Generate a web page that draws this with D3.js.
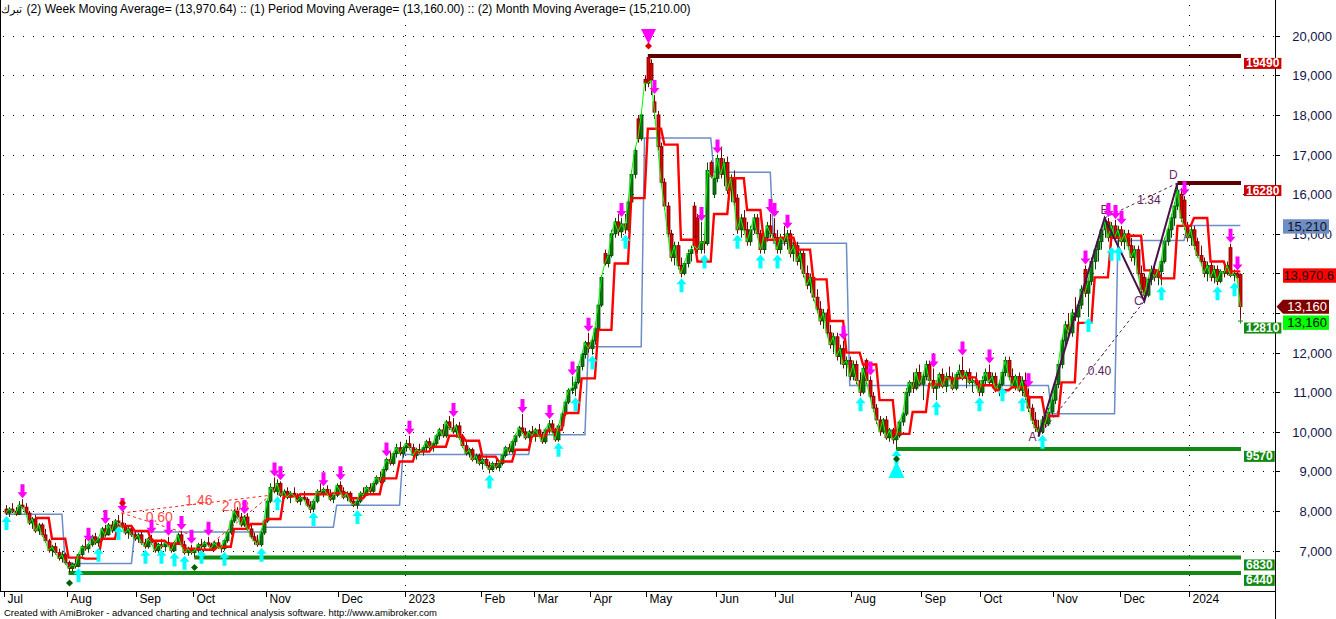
<!DOCTYPE html>
<html><head><meta charset="utf-8">
<script src="https://cdn.jsdelivr.net/npm/d3@7"></script>
<style>body{margin:0;background:#fff}svg{display:block}text{font-family:"Liberation Sans",Arial,sans-serif}</style>
</head><body><svg id="c" width="1336" height="619"></svg>
<script>
// ---------- DATA ----------
const monthLabels = ["Jul","Aug","Sep","Oct","Nov","Dec","2023","Feb","Mar","Apr","May","Jun","Jul","Aug","Sep","Oct","Nov","Dec","2024"];
const monthBars   = [19,21,17,22,22,20,23,16,17,17,21,18,23,21,18,22,20,21,16];
const monthMA     = [7920,6680,7470,7470,7590,8150,9430,9430,9930,12150,17420,16550,14760,11170,11170,11170,10460,14830,15210];
const yTicks = [7000,8000,9000,10000,11000,12000,13000,14000,15000,16000,17000,18000,19000,20000];
const hiddenTicks = [13000,14000]; // covered by the value boxes in the original

const opens = [
8050,7950,8050,8000,7920,8150,8100,7950,7700,7800,7500,7650,7400,7250,7000,7100,6950,6800,6900,
6700,6550,6650,6600,6900,7100,7050,7150,7350,7200,7300,7550,7400,7650,7500,7750,7700,7600,7450,7550,7400,
7300,7400,7200,7100,7300,7200,7000,7150,7100,7200,7150,7000,7200,7400,7150,6950,7050,
6950,7000,7150,7100,7200,7150,7050,7200,7100,7050,7250,7450,7750,8000,7850,7650,7850,7550,7350,7250,7150,7450,
7750,8250,8600,8500,8700,8400,8500,8350,8450,8400,8250,8350,8300,8150,8050,8250,8500,8450,8550,8450,8300,8400,
8650,8500,8350,8450,8250,8150,8250,8450,8400,8600,8500,8700,8850,8750,9050,9300,9200,9450,9600,9450,
9600,9700,9600,9400,9550,9500,9600,9750,9600,9700,9900,10050,9900,10250,10100,10000,10150,9850,9650,9450,9550,9300,9400,
9200,9300,9150,9050,9200,9100,9200,9400,9600,9500,9750,9900,10100,10000,9850,10000,
9900,10050,9900,9750,10050,10200,10000,9800,10150,10450,10750,11050,11100,11250,11650,11950,12250,
12100,12300,12600,13200,14500,14250,14450,15000,15300,15050,15250,15100,15800,16500,17900,17400,18900,
19450,19300,18330,18000,17200,16300,15700,15000,14400,14700,14200,14000,14250,14500,15700,15400,14600,14800,14750,16800,16000,
16400,16900,16500,16800,16100,16400,15900,15100,15400,15100,14800,15100,15400,15000,14600,14900,15200,15000,
14900,14600,14900,14800,15000,14500,14700,14300,14500,14000,13700,13900,13400,13100,12800,13000,12500,12200,12400,11900,12100,11700,11800,
11400,11700,11300,11000,11800,11300,10900,10600,10300,10000,10300,9850,10050,9800,9900,10250,10450,11000,11250,11100,11500,
11200,11400,11700,11300,11100,11200,11450,11150,11400,11350,11100,11450,11550,11350,11500,11250,11300,11200,
11000,11300,11500,11250,11400,11100,11200,11500,11800,11400,11150,11400,11050,11300,10900,10600,10300,10100,10000,10300,10200,10500,
10800,11200,11700,12300,12700,12500,13000,12900,13200,14100,13500,13800,14300,14600,14800,15100,15300,14900,15200,14900,
15100,14800,15000,14700,14400,14600,14000,13900,13450,13850,14100,13900,14050,14300,14800,15100,15400,15700,16000,15850,15200,
14900,15100,14800,14450,14300,14000,14200,13900,14100,13800,14050,14000,14650,13950,14000,13970];
const highs = [
8150,8100,8200,8100,8250,8300,8200,8000,7850,7900,7700,7700,7550,7300,7150,7200,7050,7000,6950,
6750,6700,6800,6950,7150,7300,7200,7400,7450,7350,7600,7650,7700,7750,7800,7900,7950,7700,7600,7650,7500,
7450,7500,7300,7350,7400,7250,7200,7300,7250,7350,7200,7250,7450,7500,7250,7100,7150,
7050,7200,7300,7250,7350,7200,7250,7300,7150,7300,7500,7800,8050,8100,7950,7900,7950,7650,7450,7400,7500,7800,
8300,8700,8850,8800,8750,8550,8600,8500,8600,8450,8400,8500,8350,8250,8300,8550,8700,8600,8650,8550,8450,8700,
8750,8600,8500,8500,8350,8300,8500,8600,8650,8700,8750,8900,9000,9100,9350,9500,9500,9700,9750,9650,
9800,9900,9700,9600,9700,9650,9800,9850,9750,9950,10100,10200,10300,10400,10350,10200,10250,9950,9750,9600,9600,9450,9450,
9350,9400,9250,9250,9300,9250,9450,9650,9700,9800,9950,10150,10450,10100,10050,10150,
10100,10200,10000,10100,10300,10300,10100,10200,10500,10800,11100,11400,11300,11700,12000,12300,12500,
12400,12650,13300,13950,14600,14500,15100,15400,15500,15400,15500,15900,16600,17200,18000,18100,19000,
19490,19400,18500,18100,17300,16400,15800,15100,14800,14800,14400,14300,14600,14700,15800,15500,15300,15000,16800,16850,16450,
17000,17200,16900,16950,16500,16600,16000,15500,15600,15300,15200,15500,15500,15100,15000,15300,15500,15400,
15100,15000,15200,15100,15100,14800,14800,14600,14600,14200,14000,14000,13600,13300,13100,13100,12700,12500,12500,12200,12300,11900,11900,
11800,11800,11500,11700,11850,11400,11000,10700,10400,10350,10400,10100,10100,10000,10300,10500,11100,11300,11500,11600,11700,
11500,11800,11800,11600,11300,11500,11600,11500,11650,11500,11500,11700,11900,11550,11600,11400,11500,11300,
11400,11600,11700,11500,11500,11300,11550,11900,11900,11600,11450,11500,11400,11500,11100,10700,10500,10300,10400,10500,10600,10900,
11300,11800,12400,12800,13000,13100,13400,13300,13700,14200,13900,14400,14700,14900,15200,15400,15400,15300,15350,15200,
15200,15100,15100,14900,14700,14700,14200,14000,13900,14200,14250,14100,14400,14900,15200,15500,15800,16280,16150,15950,15300,
15200,15200,14900,14700,14400,14300,14300,14200,14200,14100,14300,14300,14750,14100,14050,14000];
const lows = [
7900,7850,7950,7880,7900,8050,7900,7650,7550,7450,7400,7350,7200,6950,6850,6900,6750,6700,6650,
6440,6480,6550,6580,6850,7000,6950,7100,7150,7100,7250,7350,7380,7450,7450,7650,7550,7400,7300,7350,7250,
7200,7150,7050,7050,7150,6950,6950,7050,6980,7100,6950,6980,7150,7100,6900,6870,6900,
6830,6950,7050,7000,7100,7000,7000,7050,6950,7000,7200,7400,7700,7800,7600,7600,7500,7300,7150,7100,7100,7400,
7700,8200,8450,8400,8350,8300,8300,8200,8350,8200,8150,8250,8100,7950,8000,8200,8400,8350,8400,8250,8200,8350,
8450,8300,8250,8200,8100,8050,8200,8350,8380,8450,8450,8650,8700,8700,9000,9150,9150,9350,9400,9350,
9500,9550,9350,9300,9450,9400,9500,9550,9500,9650,9800,9850,9850,10050,9950,9850,9800,9600,9400,9350,9250,9200,9150,
9050,9100,8950,9000,9050,9000,9150,9350,9450,9450,9650,9850,9950,9800,9750,9850,
9750,9850,9700,9700,9950,9950,9750,9750,10100,10400,10700,10950,10900,11200,11550,11850,12000,
11950,12200,12550,13150,14200,14150,14400,14900,14950,14900,15000,15050,15750,16400,17300,17350,18600,
18700,18500,17900,17100,16200,15600,14900,14300,14200,14100,13900,13950,14150,14300,14600,14500,14500,14500,14700,16400,15900,
16300,16400,16200,16000,15800,15700,15000,14900,15000,14700,14700,15000,14900,14500,14500,14800,14900,14800,
14500,14500,14700,14600,14400,14300,14200,14100,13900,13600,13500,13300,13000,12700,12600,12400,12100,12000,11800,11700,11600,11400,11300,
11300,11200,10900,10950,11200,10800,10500,10200,9900,9950,9800,9750,9700,9570,9850,10150,10400,10900,11000,11050,11150,
10800,11300,11200,11000,10800,11100,11100,11000,11300,11050,11050,11350,11300,11100,11200,11000,11100,10900,
10900,11200,11200,11100,11000,10900,11150,11400,11300,11100,11050,11000,10900,10800,10500,10200,10000,9880,9950,10100,10150,10400,
10700,11100,11600,12100,12400,12400,12800,12700,13100,13400,12900,13700,14100,14300,14600,14900,14800,14700,14800,14700,
14700,14600,14600,14300,14200,13900,13500,13300,13400,13700,13800,13700,13700,14250,14700,14900,15200,15600,15300,15100,14800,
14700,14600,14400,14200,13900,13800,13800,13750,13700,13750,13900,13950,13900,13800,13850,12810];
const closes = [
7950,8050,8000,7920,8150,8100,7950,7700,7800,7500,7650,7400,7250,7000,7100,6950,6800,6900,6700,
6550,6650,6600,6900,7100,7050,7150,7350,7200,7300,7550,7400,7650,7500,7750,7700,7600,7450,7550,7400,7300,
7400,7200,7100,7300,7200,7000,7150,7100,7200,7150,7000,7200,7400,7150,6950,7050,6950,
7000,7150,7100,7200,7150,7050,7200,7100,7050,7250,7450,7750,8000,7850,7650,7850,7550,7350,7250,7150,7450,7750,
8250,8600,8500,8700,8400,8500,8350,8450,8400,8250,8350,8300,8150,8050,8250,8500,8450,8550,8450,8300,8400,8650,
8500,8350,8450,8250,8150,8250,8450,8400,8600,8500,8700,8850,8750,9050,9300,9200,9450,9600,9450,9600,
9700,9600,9400,9550,9500,9600,9750,9600,9700,9900,10050,9900,10250,10100,10000,10150,9850,9650,9450,9550,9300,9400,9200,
9300,9150,9050,9200,9100,9200,9400,9600,9500,9750,9900,10100,10000,9850,10000,9900,
10050,9900,9750,10050,10200,10000,9800,10150,10450,10750,11050,11100,11250,11650,11950,12250,12100,
12300,12600,13200,13900,14250,14450,15000,15300,15050,15250,15100,15800,16500,17100,17400,18000,18800,
18800,18880,18070,17200,16300,15700,15000,14400,14700,14200,14000,14250,14500,14600,14700,14600,14800,14750,16600,16450,16400,
16900,16500,16800,16100,16400,15800,15100,15400,15100,14800,15100,15400,15000,14600,14900,15200,15000,14900,
14600,14900,14800,15000,14500,14700,14300,14500,14000,13700,13900,13400,13100,12800,13000,12500,12200,12400,11900,12100,11700,11800,11400,
11700,11300,11000,11600,11300,10900,10600,10300,10000,10300,9850,10050,9800,9900,10250,10450,11000,11250,11100,11500,11200,
11400,11700,11300,11100,11200,11450,11150,11400,11350,11100,11450,11550,11350,11500,11250,11300,11200,11000,
11300,11500,11250,11400,11100,11200,11500,11800,11400,11150,11400,11050,11300,10900,10600,10300,10100,10000,10300,10200,10500,10800,
11200,11700,12300,12700,12500,13000,12900,13200,13600,13500,13800,14300,14600,14800,15100,15300,14900,15200,14900,15100,
14800,15000,14700,14400,14600,14000,13600,13450,13850,14100,13900,14050,14300,14800,15100,15400,15700,16100,15400,15200,14900,
15100,14700,14450,14300,14000,14200,13900,14100,13800,14050,14000,14200,13950,14000,13900,13160];

const sellIdx = [5,25,30,35,44,49,53,56,61,72,81,83,96,101,115,122,135,156,164,171,176,186,196,210,215,231,232,236,253,261,280,289,297,309,326,333,335,337,356,370,372];
const buyIdx  = [0,22,28,34,42,47,51,54,59,66,77,82,93,106,146,167,172,177,187,204,211,221,228,233,258,269,281,294,301,307,313,327,334,336,349,366,371];
const bigSellIdx = [194], bigBuyIdx = [269];
const swingHighIdx = [35,194], swingLowIdx = [19,57,269];

const levelPrices = [19490,16280,12810,9570,6830,6440];
const levelStart  = [194,354,null,269,57,19];
const levelColor  = ["#5c0000","#5c0000","#108a10","#108a10","#108a10","#108a10"];
const levelBox    = ["#cc0000","#cc0000","#118a11","#118a11","#118a11","#118a11"];

const redPatIdx   = [[35,80],[35,56],[57,80]];
const redPatPrice = [[7950,8400],[7950,7400],[6830,8400]];
const redPatLabel = ["1.46","0.60","2.08"];

const abcdIdx   = [312,332,344,354];
const abcdPrice = [9880,15400,13300,16280];
const abcdName  = ["A","B","C","D"];
const abcdRatio = ["0.40","1.34"];

const weekMALast = 13970.64, closeLast = 13160, monthMALast = 15210;
const titleAr = "تبرك";
const titleEn = "(2) Week Moving Average= (13,970.64) :: (1) Period Moving Average= (13,160.00) :: (2) Month Moving Average= (15,210.00)";
const footer = "Created with AmiBroker - advanced charting and technical analysis software. http://www.amibroker.com";

// ---------- CHART ----------
const svg = d3.select("#c");
const N = closes.length;
const x = d3.scaleBand().domain(d3.range(N)).range([4,1242]);
const bw = x.bandwidth();
const cx = i => x(i) + bw/2;
const rx = i => Math.round(cx(i));
const y = d3.scaleLinear().domain([7000,20000]).range([550.7,35.7]);
const fmt = d3.format(",");

svg.append("defs").append("clipPath").attr("id","clip").append("rect")
  .attr("x",1).attr("y",0).attr("width",1274).attr("height",591);

const monthStart = []; let acc = 0;
monthBars.forEach(b => { monthStart.push(acc); acc += b; });

// grid
const grid = svg.append("g");
yTicks.forEach(v => {
  const yy = Math.round(y(v)) + 0.5;
  grid.append("line").attr("x1",3).attr("x2",1274).attr("y1",yy).attr("y2",yy)
    .attr("stroke","#000").attr("stroke-dasharray","1,9");
});
monthLabels.forEach((m,k) => {
  if (/^\d{4}$/.test(m)) {
    const xx = Math.round(x(monthStart[k])) + 0.5;
    grid.append("line").attr("x1",xx).attr("x2",xx).attr("y1",5).attr("y2",591)
      .attr("stroke","#000").attr("stroke-dasharray","1,9");
  }
});

const plot = svg.append("g").attr("clip-path","url(#clip)");

// month MA (blue step)
const bluePts = [[0, monthMA[0]]];
for (let m = 1; m < monthMA.length; m++) {
  const last = monthStart[m] - 1;
  bluePts.push([last - 1, monthMA[m-1]], [last, monthMA[m]]);
}
bluePts.push([N-1, monthMA[monthMA.length-1]]);
plot.append("path").attr("d", d3.line().x(d => cx(d[0])).y(d => y(d[1]))(bluePts))
  .attr("fill","none").attr("stroke","#6d8dc6").attr("stroke-width",1.5);

// level lines
levelPrices.forEach((p,k) => {
  if (levelStart[k] === null) return;
  plot.append("line").attr("x1",cx(levelStart[k])).attr("x2",1241)
    .attr("y1",y(p)).attr("y2",y(p)).attr("stroke",levelColor[k]).attr("stroke-width",4);
});

// candles
const up = i => closes[i] >= opens[i];
const cg = plot.append("g").selectAll("g").data(d3.range(N)).join("g");
cg.append("line")
  .attr("x1", i => rx(i) + 0.5).attr("x2", i => rx(i) + 0.5)
  .attr("y1", i => y(highs[i])).attr("y2", i => y(lows[i]))
  .attr("stroke", i => up(i) ? "#005000" : "#7a0000");
cg.append("rect")
  .attr("x", i => rx(i) - 1).attr("width", 3)
  .attr("y", i => Math.min(y(opens[i]), y(closes[i])))
  .attr("height", i => Math.max(1.2, Math.abs(y(opens[i]) - y(closes[i]))))
  .attr("fill", i => up(i) ? "#0a780a" : "#dd0000")
  .attr("stroke", i => up(i) ? "#004a00" : "#7a0000").attr("stroke-width",0.8);

// week MA: average of the last two completed weekly closes (5-bar weeks), updated at week end
const wk = 5, wc = [];
for (let w = 0; w * wk < N; w++) wc.push(closes[Math.min(N-1, w*wk + wk - 1)]);
const red = closes.map((c,i) => {
  const w = Math.floor(i / wk);
  if (i % wk === wk - 1) return w > 0 ? (c + wc[w-1]) / 2 : null;
  if (w >= 2) return (wc[w-1] + wc[w-2]) / 2;
  return null;
});
plot.append("path").attr("d", d3.line().defined(d => d !== null).x((d,i) => cx(i)).y(d => y(d))(red))
  .attr("fill","none").attr("stroke","#ff0000").attr("stroke-width",2.4);

// close line
plot.append("path").attr("d", d3.line().x((d,i) => cx(i)).y(d => y(d))(closes))
  .attr("fill","none").attr("stroke","#00ff00").attr("stroke-width",1);

// red ratio pattern (2022)
const redDy = [1, -2, -15];
redPatIdx.forEach((pr,k) => {
  const x1 = cx(pr[0]), y1 = y(redPatPrice[k][0]), x2 = cx(pr[1]), y2 = y(redPatPrice[k][1]);
  plot.append("line").attr("x1",x1).attr("y1",y1).attr("x2",x2).attr("y2",y2)
    .attr("stroke","#ff2020").attr("stroke-width",1).attr("stroke-dasharray","3,3");
  plot.append("text").attr("x",(x1+x2)/2 + 3).attr("y",(y1+y2)/2 + redDy[k]).attr("text-anchor","middle")
    .attr("font-size",14).attr("fill","#ff4a4a").text(redPatLabel[k]);
});

// ABCD pattern
const ap = abcdIdx.map((i,k) => [cx(i), y(abcdPrice[k])]);
plot.append("path").attr("d", d3.line()(ap)).attr("fill","none").attr("stroke","#4a104a").attr("stroke-width",2);
[[0,2],[1,3]].forEach((pr,k) => {
  const a = ap[pr[0]], b = ap[pr[1]];
  plot.append("line").attr("x1",a[0]).attr("y1",a[1]).attr("x2",b[0]).attr("y2",b[1])
    .attr("stroke","#5a205a").attr("stroke-width",1).attr("stroke-dasharray","3,3");
  plot.append("text").attr("x",(a[0]+b[0])/2 + 8).attr("y",(a[1]+b[1])/2 + (k ? 3 : 6))
    .attr("text-anchor","middle").attr("font-size",12).attr("fill","#5a205a").text(abcdRatio[k]);
});
const letterOff = [[-6,4],[0,-4],[-6,4],[-4,-4]];
ap.forEach((p,k) => {
  plot.append("text").attr("x",p[0] + letterOff[k][0]).attr("y",p[1] + letterOff[k][1])
    .attr("text-anchor","middle").attr("font-size",12).attr("fill","#6a2a6a").text(abcdName[k]);
});

// arrows
function downArrow(xc, tip) {
  return `M${xc-2},${tip-14}H${xc+2}V${tip-6}H${xc+5}L${xc},${tip}L${xc-5},${tip-6}H${xc-2}Z`;
}
function upArrow(xc, tip) {
  return `M${xc-2},${tip+14}H${xc+2}V${tip+6}H${xc+5}L${xc},${tip}L${xc-5},${tip+6}H${xc-2}Z`;
}
plot.append("g").selectAll("path").data(sellIdx).join("path")
  .attr("d", i => downArrow(rx(i) + 0.5, y(highs[i]) - 1)).attr("fill","#ff00ff");
plot.append("g").selectAll("path").data(buyIdx).join("path")
  .attr("d", i => upArrow(rx(i) + 0.5, y(lows[i]) + 1)).attr("fill","#00ffff");

// big triangles and diamonds
function diamond(xc, yc, r) { return `M${xc},${yc-r}L${xc+r},${yc}L${xc},${yc+r}L${xc-r},${yc}Z`; }
bigSellIdx.forEach(i => {
  const xc = rx(i) + 0.5, yh = y(highs[i]);
  plot.append("path").attr("d",`M${xc-7.5},${yh-27}H${xc+7.5}L${xc},${yh-12}Z`).attr("fill","#ff00ff");
});
bigBuyIdx.forEach(i => {
  const xc = rx(i) + 0.5, yl = y(lows[i]);
  plot.append("path").attr("d",`M${xc},${yl+12}L${xc+8},${yl+29}H${xc-8}Z`).attr("fill","#00ffff");
});
swingHighIdx.forEach(i => {
  plot.append("path").attr("d", diamond(rx(i) + 0.5, y(highs[i]) - 10, 3.5)).attr("fill","#e00000");
});
swingLowIdx.forEach(i => {
  plot.append("path").attr("d", diamond(rx(i) + 0.5, y(lows[i]) + 10, 3.5)).attr("fill","#006000");
});
plot.append("path").attr("d",`M${rx(N-1)-2},${y(lows[N-1])+0.5}H${rx(N-1)+3}M${rx(N-1)+0.5},${y(lows[N-1])-2}V${y(lows[N-1])+3}`)
  .attr("stroke","#108a10").attr("stroke-width",1);

// axes frame
svg.append("line").attr("x1",0.5).attr("x2",0.5).attr("y1",0).attr("y2",591.5).attr("stroke","#000");
svg.append("line").attr("x1",0).attr("x2",1275.5).attr("y1",591.5).attr("y2",591.5).attr("stroke","#000");
svg.append("line").attr("x1",1275.5).attr("x2",1275.5).attr("y1",0).attr("y2",619).attr("stroke","#000");

// y axis labels
yTicks.forEach(v => {
  const yy = Math.round(y(v)) + 0.5;
  svg.append("line").attr("x1",1275).attr("x2",1280).attr("y1",yy).attr("y2",yy).attr("stroke","#000");
  if (hiddenTicks.includes(v)) return;
  svg.append("text").attr("x",1332).attr("y",yy + 4.5).attr("text-anchor","end")
    .attr("font-size",13).attr("fill","#14144a").text(fmt(v));
});

// month ticks
monthLabels.forEach((m,k) => {
  const xx = Math.round(x(monthStart[k])) + 0.5;
  svg.append("line").attr("x1",xx).attr("x2",xx).attr("y1",591.5).attr("y2",597).attr("stroke","#000");
  svg.append("text").attr("x",xx + 3).attr("y",602.5).attr("font-size",12).attr("fill","#000").text(m);
});

// level labels
levelPrices.forEach((p,k) => {
  const t = svg.append("text").attr("font-size",12).attr("font-weight","bold").attr("fill","#fff").text(String(p));
  const tw = t.node().getComputedTextLength();
  const yy = y(p) + 2;
  svg.insert("rect", () => t.node()).attr("x",1244).attr("y",yy).attr("width",tw + 4).attr("height",11).attr("fill",levelBox[k]);
  t.attr("x",1246).attr("y",yy + 9.5);
});

// right value boxes
function valBox(v, txt, fill, color, dy, w, arrow) {
  const yc = y(v) + dy;
  if (arrow) {
    svg.append("path").attr("d",`M1276.5,${yc}L1283,${yc-7}H${1283+w}V${yc+7}H1283Z`).attr("fill",fill);
  } else {
    svg.append("rect").attr("x",1283).attr("y",yc-7.2).attr("width",w).attr("height",14.4).attr("fill",fill);
  }
  svg.append("text").attr("x",1283 + w - 2).attr("y",yc + 4.8).attr("text-anchor","end")
    .attr("font-size",13).attr("fill",color).text(txt);
}
valBox(monthMALast, fmt(monthMALast), "#6d8dc6", "#111", 1, 46, false);
valBox(weekMALast, d3.format(",.1f")(weekMALast), "#ff0000", "#111", 1, 53, false);
valBox(closeLast, fmt(closeLast), "#800000", "#fff", 0, 46, true);
valBox(closeLast, fmt(closeLast), "#00ff00", "#111", 16, 46, false);

// title & footer
svg.append("text").attr("x",22).attr("y",13).attr("text-anchor","end").attr("font-size",11).attr("fill","#000").text(titleAr);
svg.append("text").attr("x",26.6).attr("y",13).attr("font-size",12).attr("fill","#000")
  .attr("textLength",664).attr("lengthAdjust","spacingAndGlyphs").text(titleEn);
svg.append("text").attr("x",4).attr("y",615.5).attr("font-size",9.5).attr("fill","#000")
  .attr("textLength",433).attr("lengthAdjust","spacingAndGlyphs").text(footer);

if ([opens,highs,lows].some(a => a.length !== N) || d3.sum(monthBars) !== N) {
  svg.append("text").attr("x",300).attr("y",300).attr("fill","blue").text("LEN " + [opens.length,highs.length,lows.length,N,d3.sum(monthBars)].join(","));
}
</script></body></html>
